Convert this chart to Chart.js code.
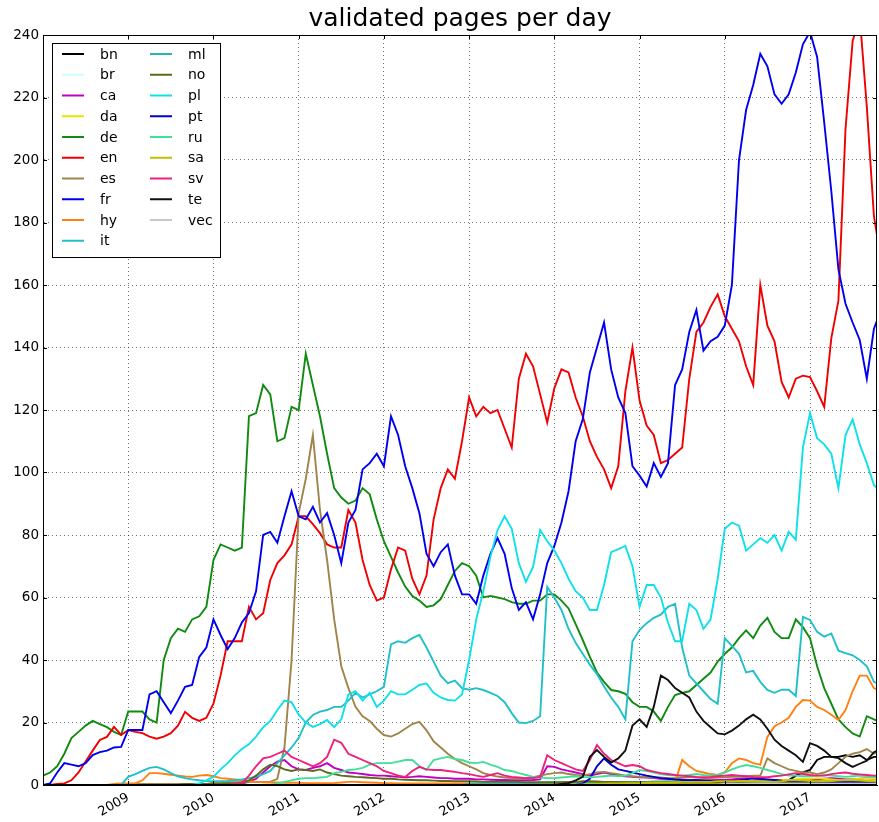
<!DOCTYPE html>
<html>
<head>
<meta charset="utf-8">
<script src="https://cdn.jsdelivr.net/npm/chart.js@4.4.1/dist/chart.umd.min.js"></script>
<style>
  html, body { margin: 0; padding: 0; background: #fff; }
  #wrap { width: 879px; height: 822px; }
</style>
</head>
<body>
<div id="wrap"><canvas id="pagesChart" width="879" height="822"></canvas></div>
<script>
// monthly samples, first one is January 2008
const startYear = 2008;
const yearTicks = [2009, 2010, 2011, 2012, 2013, 2014, 2015, 2016, 2017];

const langs = ['bn', 'br', 'ca', 'da', 'de', 'en', 'es', 'fr', 'hy', 'it',
               'ml', 'no', 'pl', 'pt', 'ru', 'sa', 'sv', 'te', 'vec'];
const langColors = ['#000000', '#ccffff', '#c000c0', '#e5e500', '#108a10', '#f00000', '#a0844a', '#0000f0', '#ff8010', '#20c0c8',
                    '#28b4b0', '#5c6a1c', '#10e0e8', '#0000d0', '#40e098', '#c0c000', '#f0207a', '#101010', '#c8c8c8'];

const bn = [
  0,0,0,0,0,0,0,0,0,0,0,0,
  0,0,0,0,0,0,0,0,0,0,0,0,
  0,0,0,0,0,0,0,0,0,0,0,0,
  0,0,0,0,0,0,0,0,0,0,0,0,
  0,0,0,0,0,0,0,0,0,0,0,0,
  0,0,0,0,0,0,0,0,0,0,0,0,
  0,0,0,0,0,0,0,0,0,0,0,0,
  0,0,0,0,0,0,0,0,0,0,0,0,
  0,0,0,0,0,0,0,0,0.5,1.5,3,4,
  4.8,8,9,9,9,9.5,9,9.5,8,9,9];
const br = [
  0,0,0,0,0,0,0,0,0,0,0,0,
  0,0,0,0,0,0,0,0,0,0,0,0,
  0,0,0,0,0,0,0,0,0,0,0,0,
  0,0,0,0,0,0,0,0,0,0,0,0,
  0,0,0,0,0,0,0,0,0,0,0,0,
  0,0,0,0,0,0,0,0,0,0,0,0,
  0.3,0.3,0.3,0.3,0.3,0.3,0.3,0.3,0.3,0.3,0.3,0.3,
  0.3,0.3,0.3,0.3,0.3,0.3,0.3,0.3,0.3,0.3,0.3,0.3,
  0.3,0.3,0.3,0.3,0.3,0.3,0.3,0.3,0.3,0.3,0.3,0.3,
  0.3,0.3,0.3,0.3,0.3,0.3,0.3,0.3,0.3,0.3,0.3];
const ca = [
  0,0,0,0,0,0,0,0,0,0,0,0,
  0,0,0,0,0,0,0,0,0,0,0,0,
  0.2,0.2,0.3,0.3,0.5,1,2,4,6,7.5,8,6,
  5,4.8,5.5,6,7,5.5,4.8,4,3.8,3.5,3.2,3,
  3,2.8,2.6,2.5,2.6,2.8,2.6,2.4,2.2,2.2,2,2,
  2,1.8,1.8,1.7,1.6,1.6,1.5,1.5,1.5,1.6,1.8,6,
  5.8,5,4.5,4,3.5,3,3.5,4,3.5,3,2.8,2.6,
  2.5,2.4,2.2,2,2,1.8,1.8,1.6,1.6,1.5,1.5,1.6,
  1.6,1.8,2,2.2,2,1.8,1.6,1.5,1.5,1.4,1.4,1.5,
  1.6,1.8,2,2.2,2,1.8,1.8,2,2.2,2,2];
const da = [
  0,0,0,0,0,0,0,0,0,0,0,0,
  0,0,0,0,0,0,0,0,0,0,0,0,
  0,0,0,0,0,0,0,0,0,0,0,0,
  0,0,0,0,0,0,0,0,0,0,0,0,
  0,0,0,0,0,0,0,0,0,0,0,0,
  0,0,0,0,0,0,0,0,0,0,0,0,
  0,0,0,0,0,0,0,0,0,0,0,0,
  0.2,0.2,0.3,0.3,0.3,0.4,0.4,0.5,0.5,0.5,0.6,0.6,
  0.6,0.7,0.8,0.8,1,1,1.2,1.2,1.5,1.5,1.8,2,
  2,2.2,2,1.8,1.5,1.5,1.8,2,2.2,2,2];
const de = [
  3,4,6,10,15,17,19,20.5,19.5,18.5,17,16,
  23.5,23.5,23.5,21,20,40,47,50,49,53,54,57,
  72,77,76,75,76,118,119,128,125,110,111,121,
  120,138,128,118,106,95,92,90,91,95,93,85,
  78,73,68,63.5,60.5,59,57,57.5,59.5,64,68.5,71,
  70,67,60,60.5,60,59.5,58.5,58,58,59,59,61,
  61,59,56.5,51.5,46.4,41,36,33,30.4,30,29.2,26.5,
  25,25,23.5,20.5,25,28.8,29.5,30,32,34,36,39.5,
  42,44,47,49.5,47,51,53.5,49,47,47,53,50.5,
  47,38,31,26,21,18.5,16.5,15.5,22,21,20];
const en = [
  0,0,0.3,0.5,1.5,4,7.5,11,14.4,15.4,18.6,16,
  17.6,17,16.6,15.5,14.8,15.5,16.6,19,23.4,21.5,20.5,21.5,
  26,35,46,46,46,57,53,55,65.6,71,73.5,77,
  86,86,83.5,80.6,77,76,76,88,84,72,64,59,
  60,69,76,75,66,61,67,85,95,101,98,110,
  124,118,121,119,120,114,108,130,138,134,125,116,
  127,133,132,124,118,110,105,101,95,102,126,140,
  123,115,112,103,104,106,108,130,145,148,153,157,
  150,146,142,134,128,160,147,142,129,124,130,131,
  130.5,126,121,143,155,210,238,246,217,182,168];
const es = [
  0,0,0,0,0,0,0,0,0,0,0,0,
  0.3,0.3,0.3,0.3,0.3,0.3,0.3,0.3,0.3,0.3,0.3,0.3,
  0.8,0.8,0.8,0.9,0.9,1,1,1,1,2,12,40,
  87,98,112,88,72,53,38,31,25,22,20.5,18,
  16,15.5,16.5,18,19.5,20.2,17.5,14,12,10,8.3,7,
  6,5,3.8,3.2,2.7,2.4,2.2,2,2.2,2.5,3,3.5,
  3.8,4,3.5,3.2,3,3.5,4,4.2,3.8,3.5,3,2.8,
  2.6,2.5,2.4,2.4,2.2,2.2,2.5,2.6,2.4,2.2,2.2,2.4,
  2.5,2.6,2.6,2.8,3,3,8.5,7,6,5,4.5,4,
  4,3.5,4,5,7,9,10,10.5,11.5,10,11];
const fr = [
  0,0.5,4,7,6.5,6,7,9.6,10.5,11,12,12.2,
  17.6,17.6,17.6,29,30,26.5,23,27,31.4,32,41,44,
  53,48,43.5,47,52,55,62,80,81,77.5,86,94,
  86,85,89,84,87,80,71,84,88,101,103,106,
  102,118,112,102,95,87,74,70,74.5,77,67,61,
  61,58,67,74,79,74,63,56,58.5,53,61,71,
  76.5,84,94,110,117,132,140,148,133,124,119,102,
  99,95.5,103,98.6,103,128,133,145,152,139,142,143.4,
  147,160,200,216,224,234,230,221,218,221,228,237,
  241,233,212,190,165,154,148,142.4,130,146,152];
const hy = [
  0,0,0,0,0,0,0,0,0,0,0.3,0.5,
  0.5,0.5,1.5,3.8,3.8,3.6,3.3,3,2.7,2.6,3,3.2,
  2.8,2.2,2,1.8,1.5,1.2,1,0.9,0.8,0.8,0.7,0.7,
  0.7,0.6,0.6,0.6,0.6,0.6,0.8,1,1,0.9,0.8,0.7,
  0.6,0.6,0.5,0.5,0.5,0.5,0.5,0.5,0.5,0.5,0.5,0.5,
  0.5,0.5,0.5,0.5,0.5,0.5,0.5,0.5,0.5,0.5,0.5,0.5,
  0.5,0.6,0.6,0.7,0.8,0.8,0.8,1,1,1,1,1,
  1,1,1,1,1,1,8,6,4.5,4,3.5,3.2,
  4,7,8.5,8,7,6.5,15.4,18.8,20,21.5,25,27.2,
  27,25,24,22.5,20.8,24,30,35,35,31,30];
const it = [
  0,0,0,0,0,0,0,0,0,0,0,0,
  2.6,3.5,4.5,5.5,5.8,5,3.8,2.8,2.2,1.8,1.5,1.3,
  1.2,1.2,1.3,1.5,1.8,2.2,2.6,3.5,4.5,7,9.5,12,
  15,20,22.4,23.5,24,25,25,27,29.5,28,29,30,
  31.4,45,46,45.5,47,48,44,39.5,35,32.6,33.4,31,
  30.5,31,30.4,29.5,28.5,26.5,23,20,19.8,20.5,22,63.4,
  60,56,50,45.5,42,38.5,35.5,31.5,28,25,21,46,
  49.6,51.8,53.5,54.5,57,58,44,35,32.5,30,27.5,26,
  47,44.5,42,36,36.5,33,30.4,29.5,30.5,30.5,28.5,53.8,
  52.8,49,47.5,48.5,43,42.2,41.5,40,38,33,32];
const ml = [
  0,0,0,0,0,0,0,0,0,0,0,0,
  0,0,0,0,0,0,0,0,0,0,0,0,
  0,0,0,0,0,0,0,0,0,0,0,0,
  0,0,0,0,0,0,0,0,0,0,0,0,
  0,0,0,0,0,0,0,0,0,0,0,0,
  0.3,0.3,0.4,0.5,0.5,0.5,0.6,0.6,0.6,0.6,0.7,0.7,
  0.7,0.8,0.8,0.8,0.9,0.9,1,1,1,1,1,1,
  1,1,1.1,1.1,1.2,1.2,1.2,1.1,1,1,1,1,
  1,1,1,1.1,1.2,1.2,1.2,1.1,1,1,1,1,
  1,1,1.1,1.2,1.2,1.2,1.1,1,1,1,1];
const no = [
  0,0,0,0,0,0,0,0,0,0,0,0,
  0,0,0,0,0,0,0,0,0.3,0.3,0.3,0.3,
  0.3,0.3,0.5,0.5,0.8,1.5,3,5,6.5,6,5,4.5,
  5,4.8,4.5,5,4,3.5,3,2.8,2.6,2.5,2.3,2.2,
  2,2,1.8,1.7,1.6,1.5,1.5,1.4,1.3,1.3,1.2,1.2,
  1.2,1.1,1,1,1,1,1,1,0.9,0.9,0.9,0.9,
  0.9,0.9,1,1,1.2,1.2,1.1,1,1,0.9,0.9,0.8,
  0.8,0.8,0.8,0.8,0.8,0.8,0.8,0.8,0.8,0.8,0.8,0.8,
  0.8,0.8,0.9,1,1,1,1,0.9,0.9,0.8,0.8,0.8,
  0.8,0.9,1,1,1,1,1,0.9,0.9,0.8,0.8];
const pl = [
  0,0,0,0,0,0,0,0,0,0,0,0,
  0,0,0,0,0,0,0,0,0,0,0.5,1.5,
  2.6,5,7,9.5,11.5,13,15.5,18.5,20.5,24,27,26.5,
  22.5,20,18.6,19.5,20.8,18.5,21,29,30,27,29.5,25,
  27,30,29,29,30.5,32,32.5,29.5,28,27.2,27,29,
  40,53,62,73,81.6,86,82,71,65,69.8,81.6,78,
  75,71,66,62,60,56,56,64,74.5,75.5,76.5,70,
  57,64,64,60,52,46,46,58,56,50,53,66,
  82,84,83,75,77,79,77.5,80,75,81,78.5,108,
  119,111,109,106,95,112,117,109,103,96,94];
const pt = [
  0,0,0,0,0,0,0,0,0,0,0,0,
  0,0,0,0,0,0,0,0,0,0,0,0,
  0,0,0,0,0,0,0,0,0,0,0,0,
  0,0,0,0,0,0,0,0,0,0,0,0,
  0,0,0,0,0,0,0,0,0,0,0,0,
  0,0,0,0,0,0,0,0,0,0,0,0,
  0,0,0,0,0.5,2,6,8.5,6.5,5,4.5,4,
  3.5,3,2.6,2.2,2,1.8,1.6,1.5,1.5,1.4,1.3,1.2,
  1.2,1.3,1.5,1.8,2.2,2,1.8,1.6,1.4,1.3,1.2,1.2,
  1.2,1.1,1,1,1,1,1,1,1,1,1];
const ru = [
  0,0,0,0,0,0,0,0,0,0,0,0,
  0,0,0,0,0,0,0,0,0,0,0,0,
  0,0,0,0,0,0,0,0,0,0.5,1,1.5,
  2,2.2,2.2,2.4,2.6,3.8,4.2,4.8,5,5.5,6.5,7,
  7,7,7.5,8,8,6,4.8,8,8.5,9,8.3,8,
  7.2,7,7.4,6.5,5.8,4.8,4.5,3.8,3.2,2.6,2.4,2.2,
  2.2,2.4,2.6,2.8,2.6,2.5,2.6,2.8,3,2.8,3,3.8,
  4.8,4.5,4,3.5,3.2,3,3,3.2,3.5,3.2,3,3.2,
  4,5,5.8,6.4,6,5.5,4.8,4.2,3.5,3,3,2.8,
  2.8,3,3.2,3,2.8,2.6,2.8,3,2.8,2.6,2.6];
const sa = [
  0,0,0,0,0,0,0,0,0,0,0,0,
  0,0,0,0,0,0,0,0,0,0,0,0,
  0,0,0,0,0,0,0,0,0,0,0,0,
  0,0,0,0,0,0,0,0,0,0,0,0,
  0,0,0,0,0,0,0,0,0,0,0,0,
  0,0,0,0,0,0,0,0,0,0,0,0,
  0,0,0,0,0.2,0.3,0.3,0.4,0.5,0.5,0.6,0.6,
  0.6,0.7,0.8,0.8,0.8,0.9,1,1,1,1,1,1.2,
  1.2,1.2,1.3,1.3,1.2,1.1,1,1,1.2,1.5,1.5,1.4,
  1.3,1.2,1.2,1.3,1.4,1.5,1.5,1.4,1.3,1.2,1.2];
const sv = [
  0,0,0,0,0,0,0,0,0,0,0,0,
  0,0,0,0,0,0,0,0,0,0,0,0,
  0,0,0,0.3,0.5,3,6,8.5,9,10,11,9,
  8,7,6,7,9,14.5,13.5,10,9,8,7,6,
  4.5,3.8,3,2.6,4.5,5.8,5,4.8,4.8,4.5,4.2,3.8,
  3.5,3,2.6,3.2,3.8,3,2.6,2.4,2.2,2.2,2.6,9.5,
  8,7,6,5,4.5,8,12.8,10,8,7,6,6.4,
  6,4.8,4.3,3.8,3.5,3.2,3,2.8,2.6,2.5,2.6,2.8,
  3,3.2,3,2.8,2.6,2.5,2.5,2.8,3,3.4,3.8,3.5,
  3.2,3,3,3.5,3.8,4,3.6,3.4,3.2,3,3];
const te = [
  0,0,0,0,0,0,0,0,0,0,0,0,
  0,0,0,0,0,0,0,0,0,0,0,0,
  0,0,0,0,0,0,0,0,0,0,0,0,
  0,0,0,0,0,0,0,0,0,0,0,0,
  0,0,0,0,0,0,0,0,0,0,0,0,
  0,0,0,0,0,0,0,0,0,0,0,0,
  0,0.3,0.6,1.5,2.6,9,11.2,9,7.2,8.5,11,19,
  21,18.6,25,35,33.6,31,29.5,28,23.5,20.5,18.5,16.5,
  16.2,17.4,19,21,22.5,21,18,14.5,12.5,11,9.5,7.4,
  13.4,12.5,11,9,8.6,7,5.8,6.8,7.8,10.5,11.5];
const vec = [
  0,0,0,0,0,0,0,0,0,0,0,0,
  0,0,0,0,0,0,0,0,0,0,0,0,
  0,0,0,0,0,0,0,0,0,0,0,0,
  0,0,0,0,0,0,0,0,0,0,0,0,
  0,0,0,0,0,0,0,0,0,0,0,0,
  0,0,0,0,0,0,0,0,0,0,0,0,
  0,0,0,0,0,0,0,0,0,0,0,0,
  0,0,0,0,0,0,0,0,0,0,0,0,
  0.4,0.4,0.4,0.4,0.4,0.4,0.4,0.4,0.4,0.4,0.4,0.4,
  0.4,0.4,0.4,0.4,0.4,0.4,0.4,0.4,0.4,0.4,0.4];

const langValues = [bn, br, ca, da, de, en, es, fr, hy, it, ml, no, pl, pt, ru, sa, sv, te, vec];

function toPoints(vals) {
    return vals.map((v, i) => ({ x: startYear + i / 12, y: v }));
}

// box round the axes, with small inward ticks like the original
const framePlugin = {
    id: 'frame',
    afterDraw(chart) {
        const { ctx, chartArea: a, scales } = chart;
        ctx.save();
        ctx.strokeStyle = '#000';
        ctx.lineWidth = 1;
        ctx.strokeRect(a.left + 0.5, a.top + 0.5, a.right - a.left - 1, a.bottom - a.top - 1);
        ctx.beginPath();
        scales.y.ticks.forEach(t => {
            const y = Math.round(scales.y.getPixelForValue(t.value)) + 0.5;
            ctx.moveTo(a.left, y); ctx.lineTo(a.left + 4, y);
            ctx.moveTo(a.right, y); ctx.lineTo(a.right - 4, y);
        });
        scales.x.ticks.forEach(t => {
            const x = Math.round(scales.x.getPixelForValue(t.value)) + 0.5;
            ctx.moveTo(x, a.bottom); ctx.lineTo(x, a.bottom - 4);
            ctx.moveTo(x, a.top); ctx.lineTo(x, a.top + 4);
        });
        ctx.stroke();
        ctx.restore();
    }
};

// two column legend, filled column by column
const legendPlugin = {
    id: 'twoColLegend',
    afterDraw(chart) {
        const { ctx, chartArea: a } = chart;
        const bx = a.left + 9, by = a.top + 8, bw = 168, bh = 214;
        ctx.save();
        ctx.fillStyle = '#fff';
        ctx.fillRect(bx, by, bw, bh);
        ctx.strokeStyle = '#000';
        ctx.lineWidth = 1;
        ctx.strokeRect(bx + 0.5, by + 0.5, bw, bh);
        ctx.font = '14px "DejaVu Sans"';
        ctx.textBaseline = 'middle';
        langs.forEach((name, i) => {
            const col = i < 10 ? 0 : 1;
            const row = i < 10 ? i : i - 10;
            const x0 = bx + 10 + col * 88;
            const y = by + 11 + row * 20.75;
            ctx.strokeStyle = langColors[i];
            ctx.lineWidth = 2;
            ctx.beginPath();
            ctx.moveTo(x0, y); ctx.lineTo(x0 + 22, y);
            ctx.stroke();
            ctx.fillStyle = '#000';
            ctx.fillText(name, x0 + 38, y + 1);
        });
        ctx.restore();
    }
};

Chart.defaults.font.family = '"DejaVu Sans"';
Chart.defaults.color = '#000';

const ctx = document.getElementById('pagesChart').getContext('2d');
const chart = new Chart(ctx, {
    type: 'line',
    data: {
        datasets: langs.map((name, i) => ({
            label: name,
            data: toPoints(langValues[i]),
            borderColor: langColors[i],
            backgroundColor: langColors[i],
            borderWidth: 1.9,
            pointRadius: 0,
            tension: 0,
            fill: false,
            order: langs.length - i
        }))
    },
    options: {
        responsive: false,
        animation: false,
        layout: { padding: { top: 0, right: 2, bottom: 0, left: 0 } },
        plugins: {
            legend: { display: false },
            tooltip: { enabled: false },
            title: {
                display: true,
                text: 'validated pages per day',
                fullSize: false,
                color: '#000',
                font: { size: 25, weight: 'normal', lineHeight: 1.2 },
                padding: { top: 4, bottom: 1 }
            }
        },
        scales: {
            x: {
                type: 'linear',
                min: 2008,
                max: 2017.786,
                afterBuildTicks: s => { s.ticks = yearTicks.map(v => ({ value: v })); },
                afterFit: s => { s.height = 37; },
                ticks: {
                    autoSkip: false,
                    minRotation: 30,
                    maxRotation: 30,
                    padding: 5,
                    font: { size: 13 },
                    callback: v => String(v)
                },
                grid: { color: 'rgba(0,0,0,0.55)', lineWidth: 1, drawTicks: false, tickLength: 0 },
                border: { display: true, color: '#000', dash: [1, 3] }
            },
            y: {
                min: 0,
                max: 240,
                afterFit: s => { s.width = 43; },
                ticks: {
                    stepSize: 20,
                    padding: 4,
                    font: { size: 13.5 }
                },
                grid: { color: 'rgba(0,0,0,0.55)', lineWidth: 1, drawTicks: false, tickLength: 0 },
                border: { display: true, color: '#000', dash: [1, 3] }
            }
        }
    },
    plugins: [framePlugin, legendPlugin]
});
</script>
</body>
</html>
